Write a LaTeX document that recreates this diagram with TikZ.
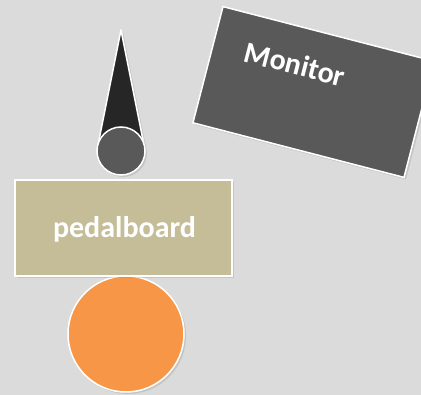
\documentclass[tikz,border=0pt]{standalone}
\usepackage{fontspec}
\setmainfont{Carlito}
\usetikzlibrary{shadows}
\definecolor{bg}{HTML}{DBDBDB}
\definecolor{tan}{HTML}{C4BD97}
\definecolor{orng}{HTML}{F79646}
\definecolor{dgray}{HTML}{595959}
\definecolor{dark}{HTML}{262626}
\begin{document}
\begin{tikzpicture}[x=1pt, y=-1pt, lbl/.style={text=white, inner sep=0pt, font=\bfseries\fontsize{30}{32}\selectfont}]
\tikzstyle{shp}=[draw=white, line width=1.5pt, drop shadow={opacity=0.25, shadow xshift=2pt, shadow yshift=-2pt}]
\fill[bg] (0,0) rectangle (421,395);
\useasboundingbox (0,0) rectangle (421,395);
\node[shp, circle, fill=orng, minimum size=116pt] (amp) at (126,334) {};
\node[shp, rectangle, fill=tan, minimum width=217pt, minimum height=96pt] (board) at (123.5,228) {};
\node[lbl] (boardtxt) at (124.5,229) {pedalboard};
\filldraw[shp, fill=dark, line join=round] (121,30) -- (144,145) -- (98,145) -- cycle;
\node[shp, circle, fill=dgray, minimum size=48pt] (mic) at (121,151) {};
\node[shp, rectangle, fill=dgray, minimum width=218pt, minimum height=120pt, rotate=-14.5] (monitor) at (313.5,92) {};
\node[lbl, rotate=-14.5] (montxt) at (295,64) {Monitor};
\end{tikzpicture}
\end{document}
